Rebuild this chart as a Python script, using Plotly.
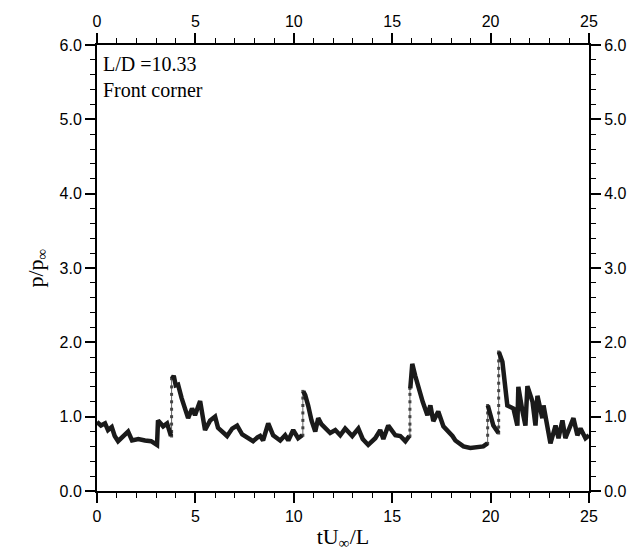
import plotly.graph_objects as go

# Pressure history segments (tU/L, p/p_inf), split at the steep jumps
t_a = [0.00, 0.20, 0.41, 0.56, 0.75, 0.90, 1.07, 1.30, 1.58, 1.78, 2.10, 2.44, 2.75, 3.05, 3.10, 3.36, 3.56, 3.76]
p_a = [0.93, 0.88, 0.91, 0.82, 0.86, 0.74, 0.67, 0.72, 0.80, 0.68, 0.70, 0.68, 0.67, 0.62, 0.95, 0.87, 0.91, 0.74]

t_b = [3.81, 3.90, 4.00, 4.12, 4.30, 4.63, 4.83, 4.98, 5.24, 5.49, 5.75, 6.00, 6.15, 6.40, 6.61, 6.87, 7.12, 7.38,
       7.60, 7.93, 8.15, 8.29, 8.44, 8.70, 8.95, 9.10, 9.31, 9.56, 9.72, 9.97, 10.22, 10.43]
p_b = [1.51, 1.55, 1.42, 1.43, 1.25, 0.98, 1.11, 1.02, 1.21, 0.82, 0.95, 1.00, 0.85, 0.80, 0.74, 0.84, 0.88, 0.76,
       0.72, 0.67, 0.72, 0.74, 0.68, 0.91, 0.75, 0.72, 0.68, 0.75, 0.68, 0.82, 0.71, 0.75]

t_c = [10.48, 10.58, 10.73, 10.90, 11.09, 11.24, 11.40, 11.60, 11.85, 12.11, 12.36, 12.61, 12.80, 12.97, 13.28,
       13.50, 13.78, 14.00, 14.14, 14.39, 14.55, 14.80, 15.00, 15.16, 15.41, 15.67, 15.87]
p_c = [1.34, 1.29, 1.15, 0.95, 0.80, 0.98, 0.90, 0.84, 0.78, 0.82, 0.75, 0.84, 0.78, 0.74, 0.84,
       0.70, 0.62, 0.68, 0.71, 0.82, 0.70, 0.88, 0.80, 0.75, 0.74, 0.67, 0.74]

t_d = [15.92, 16.02, 16.17, 16.33, 16.55, 16.79, 16.94, 17.09, 17.34, 17.60, 17.80, 18.06, 18.21, 18.40, 18.62,
       18.97, 19.30, 19.63, 19.84]
p_d = [1.38, 1.71, 1.55, 1.38, 1.20, 1.02, 1.15, 0.94, 1.07, 0.87, 0.82, 0.74, 0.68, 0.65, 0.60,
       0.58, 0.59, 0.60, 0.64]

t_e = [19.86, 19.99, 20.14, 20.40]
p_e = [1.15, 1.02, 0.88, 0.78]

t_f = [20.42, 20.60, 20.85, 21.16, 21.36, 21.41, 21.60, 21.77, 21.87, 22.13, 22.28, 22.38, 22.63, 22.69, 23.04,
       23.30, 23.45, 23.65, 23.80, 24.00, 24.21, 24.41, 24.57, 24.82, 25.00]
p_f = [1.87, 1.74, 1.15, 1.11, 0.88, 1.40, 1.10, 0.88, 1.41, 1.20, 0.88, 1.28, 0.98, 1.15, 0.64,
       0.88, 0.71, 0.95, 0.71, 0.85, 0.98, 0.75, 0.84, 0.71, 0.75]

# Sampled points visible along the steep jumps
jump_t = [3.79] * 9 + [None] + [10.46] * 7 + [None] + [15.90] * 8 + [None] + [19.85] * 6 + [None] + [20.41] * 12
jump_p = ([0.74, 0.80, 0.90, 1.00, 1.10, 1.20, 1.30, 1.40, 1.51] + [None] +
          [0.75, 0.85, 0.95, 1.05, 1.15, 1.25, 1.34] + [None] +
          [0.74, 0.82, 0.90, 1.00, 1.10, 1.20, 1.30, 1.38] + [None] +
          [0.64, 0.75, 0.85, 0.95, 1.05, 1.15] + [None] +
          [0.78, 0.86, 0.95, 1.05, 1.15, 1.25, 1.35, 1.45, 1.55, 1.65, 1.75, 1.87])

x_ticks = [0, 5, 10, 15, 20, 25]
y_ticks = [0.0, 1.0, 2.0, 3.0, 4.0, 5.0, 6.0]

t_all, p_all = [], []
for ts, ps in [(t_a, p_a), (t_b, p_b), (t_c, p_c), (t_d, p_d), (t_e, p_e), (t_f, p_f)]:
    t_all += ts + [None]
    p_all += ps + [None]

fig = go.Figure()
fig.add_trace(go.Scatter(x=jump_t, y=jump_p, mode="lines+markers",
                         line=dict(color="#666666", width=1),
                         marker=dict(symbol="square", size=3, color="#444444"),
                         showlegend=False, connectgaps=False))
fig.add_trace(go.Scatter(x=t_all, y=p_all, mode="lines",
                         line=dict(color="#1a1a1a", width=4.5),
                         showlegend=False, connectgaps=False))
# invisible trace on the mirrored axes
fig.add_trace(go.Scatter(x=[0], y=[0], xaxis="x2", yaxis="y2", mode="markers",
                         marker=dict(opacity=0), showlegend=False, hoverinfo="skip"))

tickfont = dict(family="Liberation Sans, Arial, sans-serif", size=16, color="black")
common = dict(showgrid=False, zeroline=False, showline=True, linecolor="black", linewidth=2,
              ticks="outside", ticklen=10, tickwidth=2, tickcolor="black", tickfont=tickfont)

xcommon = dict(common, range=[0, 25], tickvals=x_ticks, ticktext=[str(v) for v in x_ticks],
               minor=dict(dtick=1, ticks="outside", ticklen=5, tickwidth=1, tickcolor="black"))
ycommon = dict(common, range=[0, 6], tickvals=y_ticks, ticktext=[f"{v:.1f}" for v in y_ticks],
               minor=dict(dtick=0.2, ticks="outside", ticklen=5, tickwidth=1, tickcolor="black"))

serif = "Liberation Serif, Times New Roman, serif"
fig.update_layout(
    width=643, height=557,
    margin=dict(l=97, r=54, t=45, b=64),
    paper_bgcolor="white", plot_bgcolor="white",
    xaxis=dict(xcommon, title=dict(text="tU<sub>∞</sub>/L", font=dict(family=serif, size=22, color="black"), standoff=4)),
    xaxis2=dict(xcommon, overlaying="x", side="top", matches="x"),
    yaxis=dict(ycommon, title=dict(text="p/p<sub>∞</sub>", font=dict(family=serif, size=22, color="black"), standoff=10)),
    yaxis2=dict(ycommon, overlaying="y", side="right", matches="y"),
    annotations=[
        dict(x=0, y=1, xref="paper", yref="paper", xanchor="left", yanchor="top", xshift=4, yshift=-6,
             text="L/D =10.33<br>Front corner", showarrow=False, align="left",
             font=dict(family=serif, size=20, color="black")),
    ],
)

fig.write_html("out.html")
